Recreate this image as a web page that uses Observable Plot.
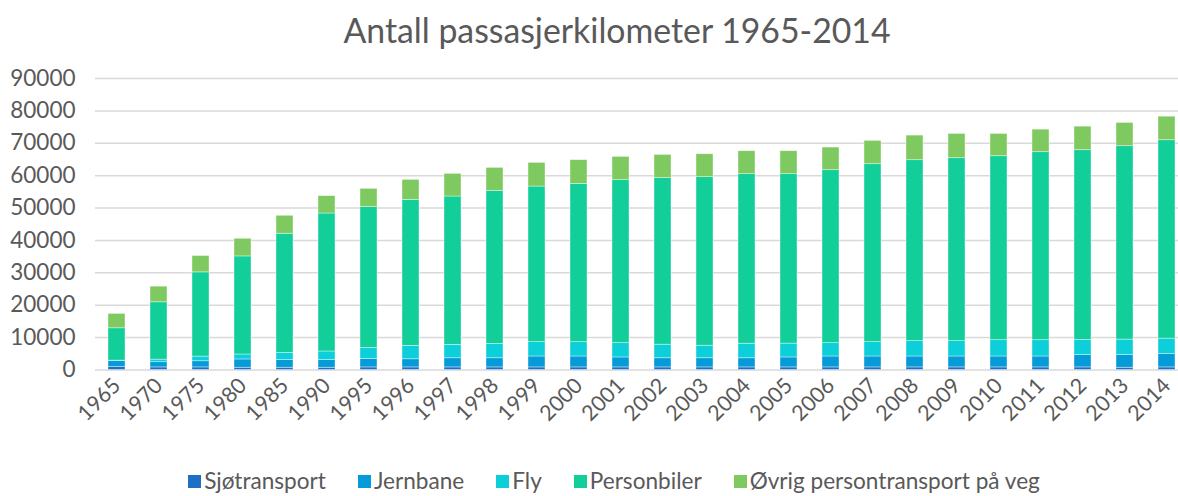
<!DOCTYPE html>
<html>
<head>
<meta charset="utf-8">
<script src="https://cdn.jsdelivr.net/npm/d3@7"></script>
<script src="https://cdn.jsdelivr.net/npm/@observablehq/plot@0.6"></script>
<style>
  html, body { margin: 0; padding: 0; background: #fff; width: 1178px; height: 496px; overflow: hidden; }
  body { position: relative; font-family: Lato, "Open Sans", sans-serif; color: #595959; }
  #title { position: absolute; top: 9px; left: 217px; width: 800px; text-align: center; font-size: 33.8px; line-height: 42px; color: #595959; white-space: nowrap; }
  #chart { position: absolute; top: 60px; left: 0; }
  #legend { position: absolute; top: 468px; left: 0; width: 1228px; display: flex; justify-content: center; gap: 32px; font-size: 22.6px; line-height: 26px; color: #595959; white-space: nowrap; }
  .item { display: flex; align-items: center; }
  .sw { width: 13px; height: 13px; margin-right: 3px; display: inline-block; }
</style>
</head>
<body>
<div id="title">Antall passasjerkilometer 1965-2014</div>
<div id="chart"></div>
<div id="legend"></div>
<script>
const years = ["1965","1970","1975","1980","1985","1990","1995","1996","1997","1998","1999","2000","2001","2002","2003","2004","2005","2006","2007","2008","2009","2010","2011","2012","2013","2014"];
const seriesNames = ["Sjøtransport","Jernbane","Fly","Personbiler","Øvrig persontransport på veg"];
const seriesColors = ["#1f6fc5","#049bd8","#0ccfda","#12ce98","#7eca60"];

const sjotransport = [900,800,800,700,700,700,800,800,800,800,800,800,800,800,800,800,800,800,800,800,800,800,800,800,700,800];
const jernbane     = [1900,1600,1900,2550,2370,2370,2640,2510,2820,2820,3370,3370,3070,2820,2820,2820,3070,3370,3370,3370,3370,3370,3370,3800,3900,4110];
const fly          = [100,800,1440,1540,2240,2640,3400,4140,4140,4450,4420,4420,4410,4200,3880,4510,4280,4110,4420,4730,4730,5030,5030,4690,4790,4780];
const personbiler  = [9980,17700,26000,30280,36760,42610,43450,45090,45800,47250,48050,48880,50330,51410,52040,52330,52310,53410,54950,55870,56490,56800,58040,58570,59700,61250];
const ovrig        = [4440,4830,5050,5450,5540,5360,5640,6170,7000,7080,7310,7310,7180,7180,7080,7090,7090,6980,7190,7600,7490,6880,6970,7270,7180,7270];

const yTicks = [0,10000,20000,30000,40000,50000,60000,70000,80000,90000];

const seriesValues = [sjotransport, jernbane, fly, personbiler, ovrig];
const table = [];
years.forEach((yr, i) => {
  seriesNames.forEach((s, k) => table.push({year: yr, series: s, value: seriesValues[k][i]}));
});

const chart = Plot.plot({
  width: 1178,
  height: 392,
  marginTop: 18,
  marginBottom: 82.5,
  marginLeft: 95,
  marginRight: 0,
  style: {fontFamily: "Lato, 'Open Sans', sans-serif", fontSize: "22px", color: "#595959", background: "#fff", overflow: "visible"},
  x: {domain: years, range: [95, 1188.7], paddingInner: 0.596, paddingOuter: 0.29, label: null},
  y: {domain: [0, 90000], label: null},
  color: {domain: seriesNames, range: seriesColors},
  marks: [
    Plot.ruleY(yTicks, {stroke: "#d9d9d9", strokeWidth: 1.5}),
    Plot.barY(table, {x: "year", y: "value", fill: "series", stroke: "#ffffff", strokeOpacity: 0.55, strokeWidth: 0.7}),
    Plot.axisY(yTicks, {tickSize: 0, tickPadding: 20, tickFormat: d => String(d), fontSize: 22.5, label: null}),
    Plot.axisX({tickSize: 0, tickPadding: 12, tickRotate: -45, fontSize: 21.5, label: null})
  ]
});
document.getElementById("chart").appendChild(chart);

const legend = d3.select("#legend");
seriesNames.forEach((s, k) => {
  const it = legend.append("div").attr("class", "item");
  it.append("span").attr("class", "sw").style("background", seriesColors[k]);
  it.append("span").text(s);
});
</script>
</body>
</html>
